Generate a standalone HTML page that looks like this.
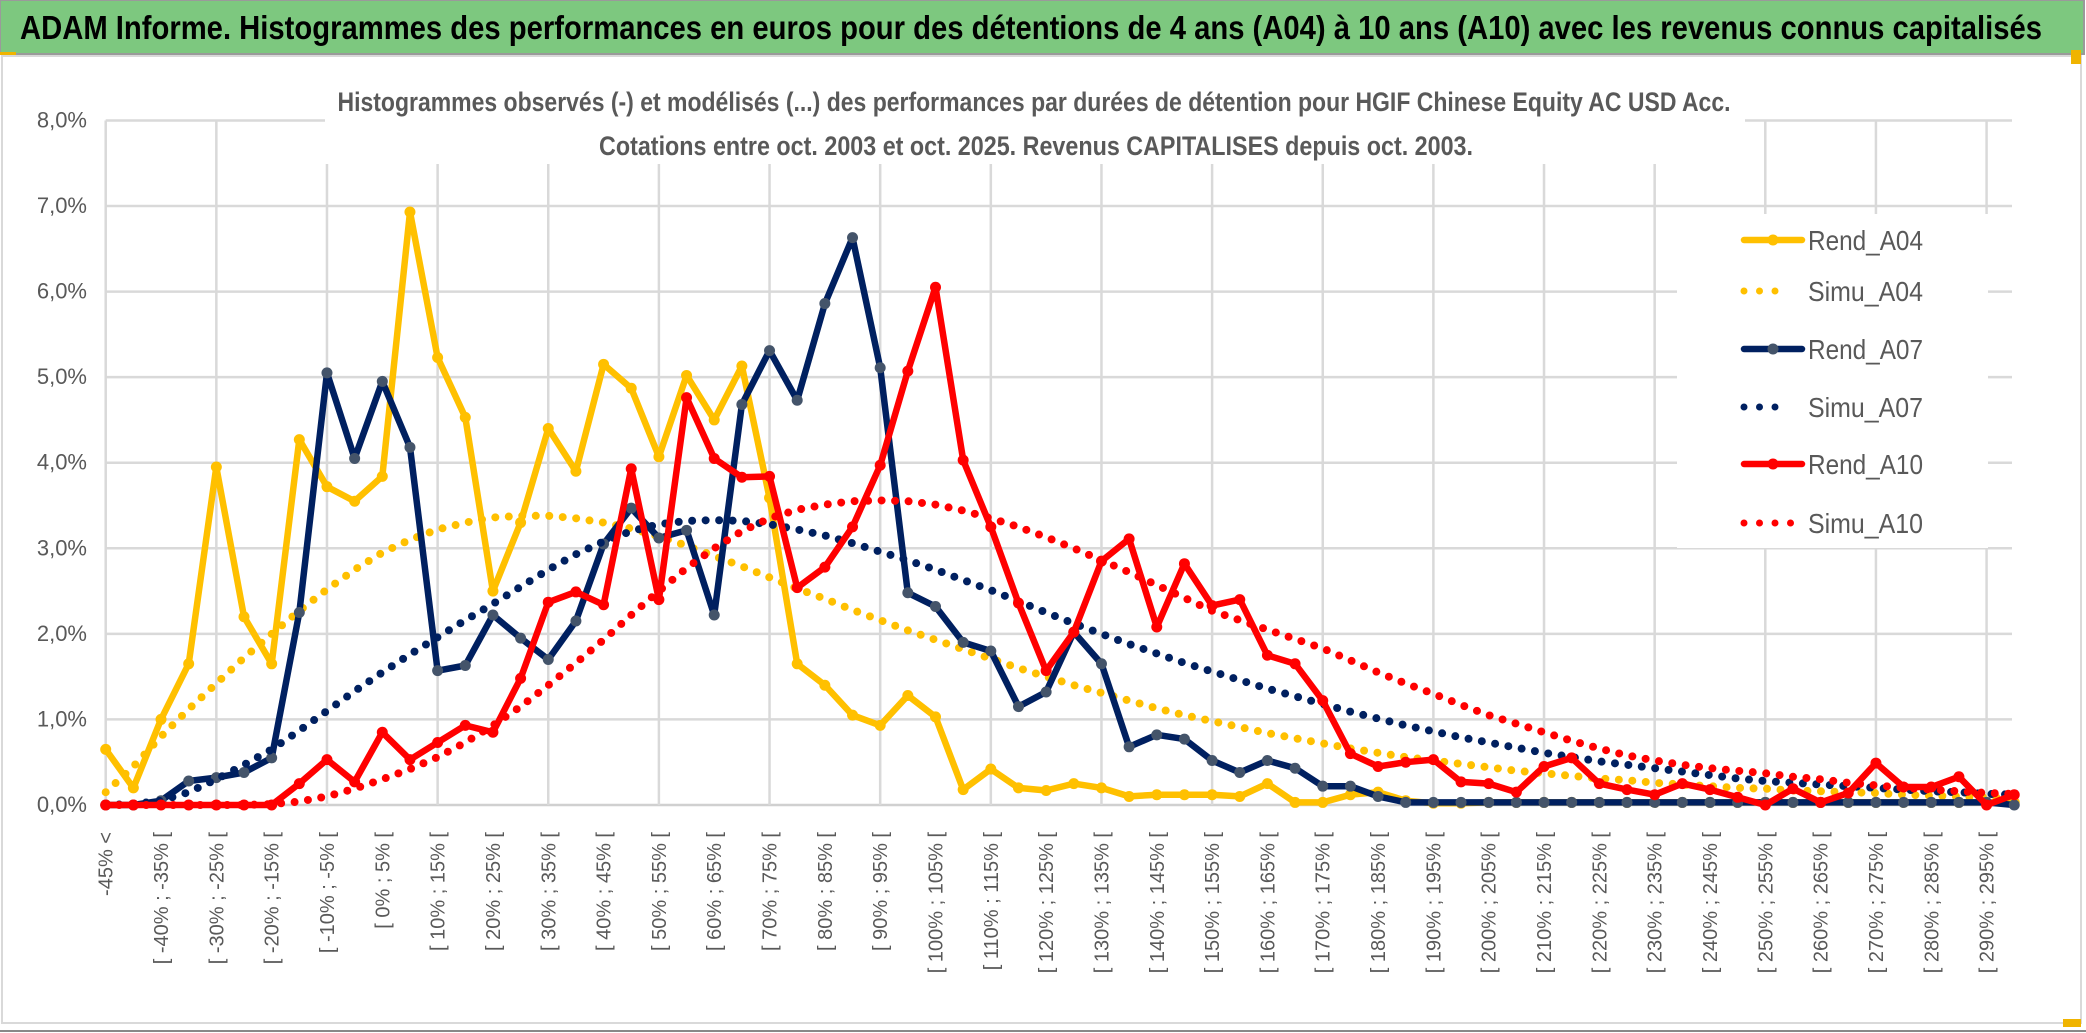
<!DOCTYPE html>
<html><head><meta charset="utf-8"><style>
html,body{margin:0;padding:0;background:#fff;}
svg{display:block;font-family:"Liberation Sans",sans-serif;}
</style></head><body>
<svg id="chart" width="2086" height="1033" viewBox="0 0 2086 1033" xmlns="http://www.w3.org/2000/svg">
<rect x="0" y="0" width="2086" height="1033" fill="#fff"/>
<rect x="0" y="0" width="2084" height="54" fill="#7dc87f" stroke="#9a9a9a" stroke-width="2"/>
<text x="20" y="39" font-size="33" font-weight="bold" fill="#000" textLength="2022" lengthAdjust="spacingAndGlyphs">ADAM Informe. Histogrammes des performances en euros pour des détentions de 4 ans (A04) à 10 ans (A10) avec les revenus connus capitalisés</text>
<rect x="0" y="52" width="16" height="3" fill="#f0b400"/>
<rect x="2" y="56" width="2079" height="967" fill="#fff" stroke="#d9d9d9" stroke-width="2"/>
<rect x="2071" y="50" width="10" height="14" fill="#f0b400"/>
<rect x="2063" y="1019" width="18" height="8" fill="#f0b400"/>
<line x1="0" y1="1031" x2="2086" y2="1031" stroke="#888" stroke-width="2"/>
<g id="grid"></g>
<rect x="325" y="76" width="1420" height="88" fill="#fff"/>
<text x="1034" y="111" font-size="27" font-weight="bold" fill="#595959" text-anchor="middle" textLength="1393" lengthAdjust="spacingAndGlyphs">Histogrammes observés (-) et modélisés (...) des performances par durées de détention pour HGIF Chinese Equity AC USD Acc.</text>
<text x="1036" y="155" font-size="27" font-weight="bold" fill="#595959" text-anchor="middle" textLength="874" lengthAdjust="spacingAndGlyphs">Cotations entre oct. 2003 et oct. 2025. Revenus CAPITALISES depuis oct. 2003.</text>
<g id="ylabels"></g>
<g id="xlabels"></g>
<g id="series"></g>
<g id="legend"></g>
</svg>
<script>
const rendA04 = [0.65,0.2,1.0,1.65,3.95,2.2,1.65,4.27,3.72,3.55,
3.84,6.93,5.23,4.53,2.5,3.3,4.4,3.9,5.15,4.87,
4.07,5.02,4.5,5.13,3.59,1.65,1.4,1.05,0.93,1.28,
1.03,0.18,0.42,0.2,0.17,0.25,0.2,0.1,0.12,0.12,
0.12,0.1,0.25,0.03,0.03,0.12,0.15,0.05,0.02,0.02,
0.03,0.03,0.03,0.03,0.03,0.03,0.03,0.03,0.03,0.03,
0.03,0.03,0.03,0.03,0.03,0.03,0.03,0.03,0.03,0.03];
const simuA04 = [0.15,0.45,0.8,1.12,1.42,1.72,2.0,2.27,2.52,2.75,
2.95,3.1,3.22,3.3,3.36,3.38,3.38,3.35,3.3,3.23,
3.14,3.03,2.91,2.79,2.66,2.53,2.41,2.28,2.16,2.04,
1.93,1.82,1.71,1.6,1.5,1.4,1.31,1.22,1.13,1.05,
0.98,0.91,0.84,0.78,0.72,0.66,0.61,0.56,0.52,0.48,
0.44,0.4,0.37,0.34,0.31,0.29,0.26,0.24,0.22,0.2,
0.19,0.17,0.16,0.15,0.14,0.12,0.11,0.1,0.09,0.08];
const rendA07 = [0,0,0.05,0.28,0.32,0.38,0.55,2.25,5.05,4.05,
4.95,4.18,1.57,1.63,2.22,1.95,1.7,2.15,3.05,3.47,
3.12,3.21,2.22,4.68,5.31,4.73,5.86,6.63,5.11,2.48,
2.32,1.9,1.8,1.15,1.32,2.02,1.65,0.68,0.82,0.77,
0.52,0.38,0.52,0.43,0.22,0.22,0.1,0.03,0.03,0.03,
0.03,0.03,0.03,0.03,0.03,0.03,0.03,0.03,0.03,0.03,
0.03,0.03,0.03,0.03,0.03,0.03,0.03,0.03,0.03,0];
const simuA07 = [0,0.01,0.05,0.15,0.3,0.47,0.65,0.87,1.1,1.33,
1.55,1.76,1.96,2.16,2.35,2.55,2.75,2.93,3.08,3.2,
3.28,3.32,3.33,3.32,3.28,3.22,3.15,3.06,2.96,2.86,
2.75,2.63,2.51,2.38,2.25,2.12,2.0,1.88,1.77,1.66,
1.56,1.46,1.36,1.27,1.18,1.09,1.01,0.93,0.86,0.79,
0.73,0.67,0.61,0.56,0.51,0.47,0.43,0.39,0.35,0.31,
0.28,0.26,0.24,0.22,0.2,0.18,0.16,0.15,0.13,0.12];
const rendA10 = [0,0,0,0,0,0,0,0.25,0.53,0.27,
0.85,0.53,0.73,0.93,0.85,1.48,2.37,2.49,2.34,3.93,
2.4,4.76,4.05,3.83,3.84,2.54,2.78,3.25,3.97,5.07,
6.05,4.03,3.25,2.36,1.57,2.02,2.85,3.11,2.08,2.82,
2.33,2.4,1.75,1.65,1.22,0.6,0.45,0.5,0.53,0.27,
0.25,0.15,0.45,0.55,0.25,0.18,0.12,0.25,0.18,0.09,
0,0.19,0.03,0.14,0.49,0.21,0.21,0.33,0,0.12];
const simuA10 = [0,0,0,0,0,0,0.01,0.04,0.1,0.19,
0.3,0.42,0.56,0.73,0.93,1.15,1.4,1.66,1.93,2.22,
2.5,2.77,3.0,3.2,3.35,3.45,3.51,3.55,3.56,3.55,
3.51,3.44,3.35,3.25,3.13,3.0,2.86,2.72,2.57,2.42,
2.27,2.16,2.05,1.94,1.83,1.69,1.55,1.42,1.3,1.17,
1.05,0.95,0.85,0.75,0.66,0.58,0.52,0.47,0.43,0.4,
0.37,0.33,0.3,0.26,0.23,0.2,0.18,0.16,0.14,0.13];
const yTicks = [0,1,2,3,4,5,6,7,8];
const yTickLabels = ["0,0%","1,0%","2,0%","3,0%","4,0%","5,0%","6,0%","7,0%","8,0%"];
const seriesNames = ["Rend_A04","Simu_A04","Rend_A07","Simu_A07","Rend_A10","Simu_A10"];

const NS = "http://www.w3.org/2000/svg";
const X0 = 105.7, STEP = 27.66, Y0 = 805, YPER = 85.57;
const N = rendA04.length;
function xs(i){ return X0 + i*STEP; }
function ys(v){ return Y0 - v*YPER; }
function mk(tag, attrs, parent){ const e=document.createElementNS(NS,tag); for(const k in attrs) e.setAttribute(k,attrs[k]); parent.appendChild(e); return e; }
function catLabel(i){ if(i===0) return "-45% <"; const lo=-50+5*i; return "[ "+lo+"% ; "+(lo+5)+"% ["; }

const grid = document.getElementById('grid');
const xRight = 2012;
yTicks.forEach((t)=>{
  const l = mk('line',{x1:X0,x2:xRight,y1:ys(t),y2:ys(t),stroke:(t===0?'#d0d0d0':'#d9d9d9'),'stroke-width':2.5},grid);
  
  
});
for(let i=0;i<N;i+=4){
  const l = mk('line',{x1:xs(i),x2:xs(i),y1:ys(8),y2:Y0,stroke:'#d9d9d9','stroke-width':2.5},grid);
  
  
}
const yl = document.getElementById('ylabels');
yTicks.forEach((t,k)=>{
  const e = mk('text',{x:87,y:ys(t)+7,'font-size':22,fill:'#595959','text-anchor':'end'},yl);
  e.textContent = yTickLabels[k];
  
  
});
const xl = document.getElementById('xlabels');
for(let i=0;i<N;i+=2){
  const x = xs(i)+7, y=832;
  const e = mk('text',{x:x,y:y,'font-size':20,fill:'#595959','text-anchor':'end',transform:'rotate(-90 '+x+' '+y+')'},xl);
  e.textContent = catLabel(i);
  
  
}
const sg = document.getElementById('series');
function pts(arr){ return arr.map((v,i)=>xs(i).toFixed(1)+','+ys(v).toFixed(1)).join(' '); }
function drawRend(arr,color,mcolor,name){
  const g = mk('g',{},sg);
  
  
  const pl = mk('polyline',{points:pts(arr),fill:'none',stroke:color,'stroke-width':6.5,'stroke-linejoin':'round'},g);
  
  
  arr.forEach((v,i)=>{
    const c = mk('circle',{cx:xs(i),cy:ys(v),r:5.5,fill:mcolor},g);
    
    
  });
}
function drawSimu(arr,color,name){
  const pl = mk('polyline',{points:pts(arr),fill:'none',stroke:color,'stroke-width':8,'stroke-linecap':'round','stroke-dasharray':'0 13.5'},sg);
  
  
}
drawRend(rendA04,'#ffc000','#ffc000','rend-a04');
drawSimu(simuA04,'#ffc000','simu-a04');
drawRend(rendA07,'#002060','#44546a','rend-a07');
drawSimu(simuA07,'#002060','simu-a07');
drawRend(rendA10,'#ff0000','#ff0000','rend-a10');
drawSimu(simuA10,'#ff0000','simu-a10');

const lg = document.getElementById('legend');
const bg = mk('rect',{x:1677,y:214,width:311,height:334,fill:'#fff'},lg);


const legY = [240,291,349,407,464,523];
const legCol = ['#ffc000','#ffc000','#002060','#002060','#ff0000','#ff0000'];
const legMk = ['#ffc000',null,'#44546a',null,'#ff0000',null];
seriesNames.forEach((n,k)=>{
  const g = mk('g',{},lg);
  
  
  const y = legY[k];
  if(legMk[k]){
    mk('line',{x1:1744,x2:1802,y1:y,y2:y,stroke:legCol[k],'stroke-width':6.5,'stroke-linecap':'round'},g);
    mk('circle',{cx:1773,cy:y,r:5.5,fill:legMk[k]},g);
  } else {
    mk('line',{x1:1744,x2:k===5?1800:1790,y1:y,y2:y,stroke:legCol[k],'stroke-width':7,'stroke-linecap':'round','stroke-dasharray':'0 15.5'},g);
  }
  const t = mk('text',{x:1808,y:y+10,'font-size':28,fill:'#595959',textLength:115,lengthAdjust:'spacingAndGlyphs'},g);
  t.textContent = n;
});
</script>
</body></html>
